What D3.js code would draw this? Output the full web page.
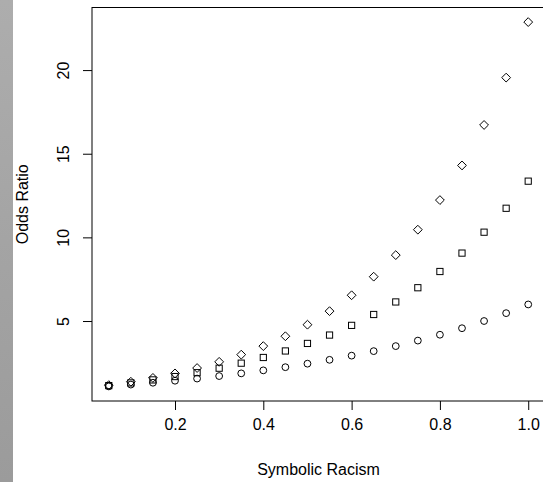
<!DOCTYPE html>
<html>
<head>
<meta charset="utf-8">
<script src="https://cdn.jsdelivr.net/npm/d3@7"></script>
<style>
  body { margin: 0; background: #fff; }
  svg { display: block; font-family: "Liberation Sans", Arial, sans-serif; }
</style>
</head>
<body>
<div id="chart"></div>
<script>
// symbolic racism values on the x axis
const racism = [0.05, 0.10, 0.15, 0.20, 0.25, 0.30, 0.35, 0.40, 0.45, 0.50,
                0.55, 0.60, 0.65, 0.70, 0.75, 0.80, 0.85, 0.90, 0.95, 1.00];
// odds ratios, one array per marker type
const circleOR  = [1.09, 1.20, 1.31, 1.43, 1.56, 1.71, 1.87, 2.05, 2.24, 2.45,
                   2.68, 2.93, 3.20, 3.50, 3.83, 4.18, 4.57, 5.00, 5.47, 5.99];
const squareOR  = [1.14, 1.30, 1.48, 1.68, 1.91, 2.18, 2.48, 2.82, 3.21, 3.66,
                   4.16, 4.74, 5.39, 6.14, 6.99, 7.96, 9.06, 10.31, 11.74, 13.36];
const diamondOR = [1.17, 1.37, 1.60, 1.87, 2.19, 2.56, 2.99, 3.50, 4.09, 4.78,
                   5.59, 6.54, 7.65, 8.94, 10.46, 12.23, 14.30, 16.72, 19.55, 22.87];
const xTicks = [0.2, 0.4, 0.6, 0.8, 1.0];
const yTicks = [5, 10, 15, 20];

const W = 543, H = 482;
const plotL = 92, plotR = 545, plotT = 7.5, plotB = 401;
const fontSize = "16px";

const svg = d3.select("#chart").append("svg")
    .attr("width", W).attr("height", H);

// gray strip on the left edge
const grad = svg.append("defs").append("linearGradient")
    .attr("id", "strip").attr("x1", 0).attr("y1", 0).attr("x2", 0).attr("y2", 1);
grad.append("stop").attr("offset", "0%").attr("stop-color", "#adadad");
grad.append("stop").attr("offset", "100%").attr("stop-color", "#9b9b9b");
svg.append("rect").attr("x", 0).attr("y", 0).attr("width", 13).attr("height", H)
    .attr("fill", "url(#strip)");

// R style 4% padding
const pad = (ext) => { const r = ext[1] - ext[0]; return [ext[0] - 0.04 * r, ext[1] + 0.04 * r]; };
const allY = circleOR.concat(squareOR, diamondOR);

const x = d3.scaleLinear().domain(pad(d3.extent(racism))).range([plotL, plotR]);
const y = d3.scaleLinear().domain(pad(d3.extent(allY))).range([plotB, plotT]);

// box
svg.append("rect")
    .attr("x", plotL).attr("y", plotT)
    .attr("width", plotR - plotL).attr("height", plotB - plotT)
    .attr("fill", "none").attr("stroke", "#000").attr("stroke-width", 1);

// x axis
const xAxis = svg.append("g")
    .attr("transform", `translate(0,${plotB})`)
    .call(d3.axisBottom(x).tickValues(xTicks).tickFormat(d3.format(".1f"))
          .tickSizeOuter(0).tickSizeInner(9).tickPadding(9));
xAxis.select(".domain").remove();
xAxis.selectAll("text").attr("font-size", fontSize).attr("fill", "#000")
    .attr("font-family", "Liberation Sans, Arial, sans-serif");

// y axis (rotated labels, like R's default)
const yAxis = svg.append("g")
    .attr("transform", `translate(${plotL},0)`)
    .call(d3.axisLeft(y).tickValues(yTicks).tickSizeOuter(0).tickSizeInner(9));
yAxis.select(".domain").remove();
yAxis.selectAll("text")
    .attr("font-size", fontSize).attr("fill", "#000")
    .attr("font-family", "Liberation Sans, Arial, sans-serif")
    .attr("x", null).attr("dy", null)
    .attr("text-anchor", "middle")
    .attr("transform", "translate(-23,0) rotate(-90)");

// axis titles
svg.append("text")
    .attr("x", (plotL + plotR) / 2).attr("y", 475)
    .attr("text-anchor", "middle").attr("font-size", fontSize)
    .text("Symbolic Racism");

svg.append("text")
    .attr("transform", `translate(28,${(plotT + plotB) / 2}) rotate(-90)`)
    .attr("text-anchor", "middle").attr("font-size", fontSize)
    .text("Odds Ratio");

// points
const pts = svg.append("g").attr("fill", "none").attr("stroke", "#000").attr("stroke-width", 1);

pts.selectAll("circle").data(racism).enter().append("circle")
    .attr("cx", d => x(d))
    .attr("cy", (d, i) => y(circleOR[i]))
    .attr("r", 3.4);

const s = 6.2;
pts.selectAll("rect.sq").data(racism).enter().append("rect")
    .attr("class", "sq")
    .attr("x", d => x(d) - s / 2)
    .attr("y", (d, i) => y(squareOR[i]) - s / 2)
    .attr("width", s).attr("height", s);

const dh = 4.4;
pts.selectAll("path.dm").data(racism).enter().append("path")
    .attr("class", "dm")
    .attr("d", (d, i) => {
        const cx = x(d), cy = y(diamondOR[i]);
        return `M${cx},${cy - dh}L${cx + dh},${cy}L${cx},${cy + dh}L${cx - dh},${cy}Z`;
    });
</script>
</body>
</html>
